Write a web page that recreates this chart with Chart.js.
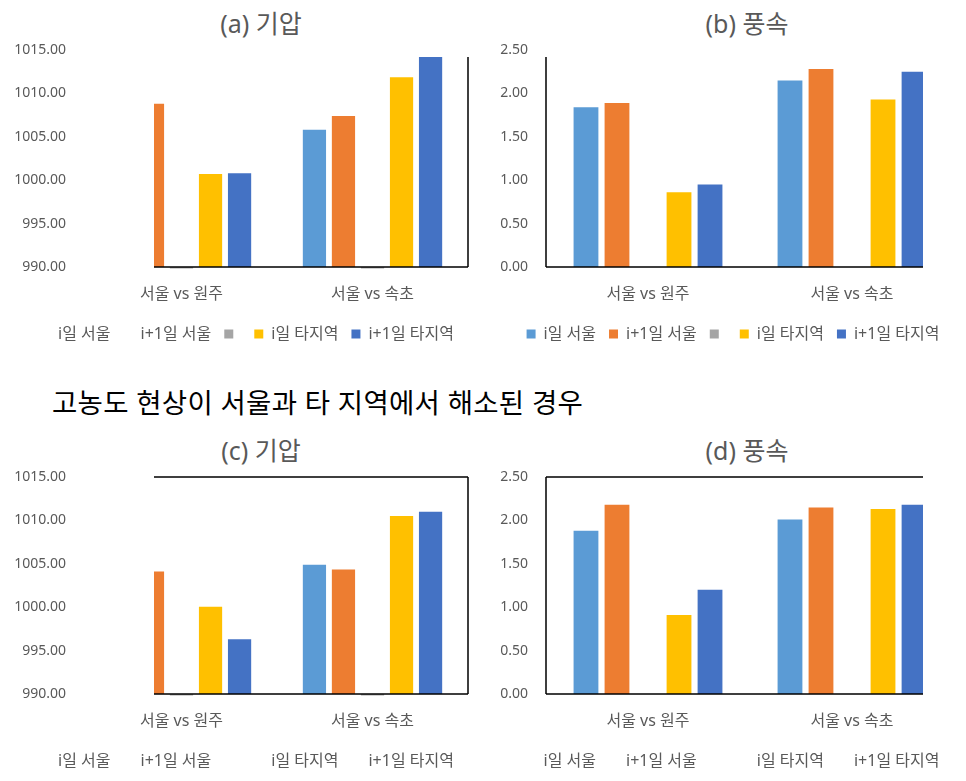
<!DOCTYPE html>
<html>
<head>
<meta charset="utf-8">
<script src="https://cdn.jsdelivr.net/npm/chart.js@4.4.1/dist/chart.umd.min.js"></script>
<style>
  html, body { margin: 0; padding: 0; background: #fff; overflow: hidden; }
  body { width: 966px; height: 781px; position: relative; font-family: 'Noto Sans', 'Noto Sans CJK KR', sans-serif; }
  .box { position: absolute; }
  .ttl { position: absolute; transform: translate(-50%, -50%); font-size: 25px; color: #595959; white-space: nowrap; line-height: 1; }
  #heading { position: absolute; left: 52px; top: 403px; transform: translateY(-50%); font-size: 27.5px; letter-spacing: 0.3px; color: #000; white-space: nowrap; line-height: 1; }
</style>
</head>
<body>
<div class="ttl" style="left:261px; top:23px">(a) 기압</div>
<div class="ttl" style="left:747px; top:23px">(b) 풍속</div>
<div id="heading">고농도 현상이 서울과 타 지역에서 해소된 경우</div>
<div class="ttl" style="left:261px; top:450px">(c) 기압</div>
<div class="ttl" style="left:747px; top:450px">(d) 풍속</div>

<div class="box" style="left:0; top:0; width:495px; height:356px"><canvas id="chartA"></canvas></div>
<div class="box" style="left:500px; top:0; width:466px; height:356px"><canvas id="chartB"></canvas></div>
<div class="box" style="left:0; top:427px; width:495px; height:356px"><canvas id="chartC"></canvas></div>
<div class="box" style="left:500px; top:427px; width:466px; height:356px"><canvas id="chartD"></canvas></div>

<script>
const categories = ['서울 vs 원주', '서울 vs 속초'];
const seriesNames = ['i일 서울', 'i+1일 서울', '', 'i일 타지역', 'i+1일 타지역'];
const seriesColors = ['#5B9BD5', '#ED7D31', '#A5A5A5', '#FFC000', '#4472C4'];

const pressureTicks = [990, 995, 1000, 1005, 1010, 1015];
const windTicks = [0, 0.5, 1, 1.5, 2, 2.5];

// (a) 기압 : [서울 vs 원주, 서울 vs 속초]
const a_seoulI  = [null, 1005.8];
const a_seoulI1 = [1008.8, 1007.4];
const a_blank   = [0, 0];
const a_otherI  = [1000.7, 1011.85];
const a_otherI1 = [1000.8, 1014.3];

// (b) 풍속
const b_seoulI  = [1.84, 2.15];
const b_seoulI1 = [1.89, 2.28];
const b_blank   = [0, 0];
const b_otherI  = [0.86, 1.93];
const b_otherI1 = [0.95, 2.25];

// (c) 기압
const c_seoulI  = [null, 1004.9];
const c_seoulI1 = [1004.1, 1004.35];
const c_blank   = [0, 0];
const c_otherI  = [1000.05, 1010.5];
const c_otherI1 = [996.3, 1011.0];

// (d) 풍속
const d_seoulI  = [1.88, 2.01];
const d_seoulI1 = [2.18, 2.15];
const d_blank   = [0, 0];
const d_otherI  = [0.91, 2.13];
const d_otherI1 = [1.2, 2.18];

const FONT = "'Noto Sans', 'Noto Sans CJK KR', sans-serif";
Chart.defaults.font.family = FONT;
Chart.defaults.color = '#595959';

// draws the visible parts of the plot-area frame
const framePlugin = {
  id: 'frame',
  afterDatasetsDraw(chart, args, opts) {
    const { ctx, chartArea: a } = chart;
    const top = a.top + (opts.inset || 0);
    ctx.save();
    ctx.strokeStyle = '#000';
    ctx.lineWidth = 1.5;
    ctx.beginPath();
    opts.sides.forEach(s => {
      if (s === 'top') { ctx.moveTo(a.left, top); ctx.lineTo(a.right, top); }
      if (s === 'bottom') { ctx.moveTo(a.left, a.bottom); ctx.lineTo(a.right, a.bottom); }
      if (s === 'left') { ctx.moveTo(a.left, top); ctx.lineTo(a.left, a.bottom); }
      if (s === 'right') { ctx.moveTo(a.right, top); ctx.lineTo(a.right, a.bottom); }
    });
    ctx.stroke();
    ctx.restore();
  }
};

function makeChart(id, series, ticks, cfg) {
  const el = document.getElementById(id);
  return new Chart(el, {
    type: 'bar',
    data: {
      datasets: seriesNames.map((name, i) => ({
        label: name,
        data: series[i].map((v, j) => ({ x: j, y: v })),
        backgroundColor: seriesColors[i],
        base: ticks[0],
        categoryPercentage: 0.76,
        barPercentage: 0.8,
        clip: { left: 0, right: 0, top: -cfg.cut, bottom: 1.5 }
      }))
    },
    options: {
      animation: false,
      responsive: true,
      maintainAspectRatio: false,
      layout: { padding: { top: 50, bottom: 4, left: 0, right: 0 } },
      scales: {
        x: {
          type: 'linear',
          min: cfg.xMin,
          max: cfg.xMax,
          offset: false,
          grid: { display: false, drawTicks: false },
          border: { display: false },
          afterBuildTicks: ax => { ax.ticks = categories.map((c, i) => ({ value: i })); },
          afterFit: ax => { ax.height = 46; ax.paddingLeft = 0; ax.paddingRight = 0; },
          ticks: {
            callback: v => categories[v],
            padding: 17.4,
            maxRotation: 0,
            autoSkip: false,
            font: { size: 16 }
          }
        },
        y: {
          min: ticks[0],
          max: ticks[ticks.length - 1],
          grid: { display: false, drawTicks: false },
          border: { display: false },
          afterBuildTicks: ax => { ax.ticks = ticks.map(v => ({ value: v })); },
          afterFit: ax => { ax.width = cfg.yWidth; ax.paddingTop = 0; ax.paddingBottom = 0; },
          ticks: { padding: cfg.yPad, callback: v => v.toFixed(2), font: { size: 14 } }
        },
        yR: {
          position: 'right',
          grid: { display: false, drawTicks: false },
          border: { display: false },
          ticks: { display: false },
          afterFit: ax => { ax.width = cfg.rightWidth; ax.paddingTop = 0; ax.paddingBottom = 0; }
        }
      },
      plugins: {
        tooltip: { enabled: false },
        legend: {
          position: 'bottom',
          onClick: null,
          labels: {
            boxWidth: 9,
            boxHeight: 9,
            padding: 13,
            font: { size: 16 },
            generateLabels: chart => Chart.defaults.plugins.legend.labels.generateLabels(chart).map((item, i) =>
              cfg.boxes[i] ? item : Object.assign(item, { fillStyle: 'rgba(0,0,0,0)', strokeStyle: 'rgba(0,0,0,0)', lineWidth: 0 }))
          }
        },
        frame: { sides: cfg.sides, inset: cfg.cut }
      }
    },
    plugins: [framePlugin]
  });
}

const leftGeom = { yWidth: 154, yPad: 88, rightWidth: 27, xMin: -0.144, xMax: 1.5 };
const rightGeom = { yWidth: 46, yPad: 18, rightWidth: 43, xMin: -0.5, xMax: 1.348 };

makeChart('chartA', [a_seoulI, a_seoulI1, a_blank, a_otherI, a_otherI1], pressureTicks,
  Object.assign({ cut: 7, sides: ['right', 'bottom'], boxes: [false, false, true, true, true] }, leftGeom));
makeChart('chartB', [b_seoulI, b_seoulI1, b_blank, b_otherI, b_otherI1], windTicks,
  Object.assign({ cut: 7, sides: ['left', 'bottom'], boxes: [true, true, true, true, true] }, rightGeom));
makeChart('chartC', [c_seoulI, c_seoulI1, c_blank, c_otherI, c_otherI1], pressureTicks,
  Object.assign({ cut: 0, sides: ['top', 'right', 'bottom'], boxes: [false, false, false, false, false] }, leftGeom));
makeChart('chartD', [d_seoulI, d_seoulI1, d_blank, d_otherI, d_otherI1], windTicks,
  Object.assign({ cut: 0, sides: ['top', 'left', 'bottom'], boxes: [false, false, false, false, false] }, rightGeom));
</script>
</body>
</html>
